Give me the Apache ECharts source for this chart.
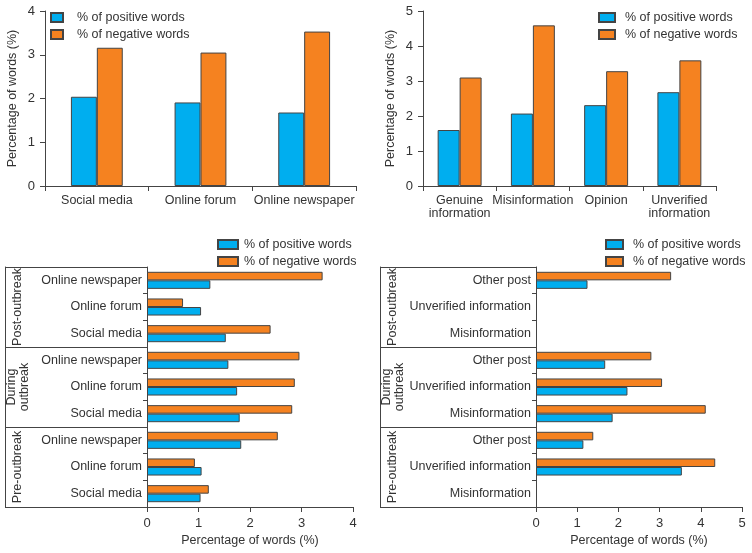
<!DOCTYPE html>
<html>
<head>
<meta charset="utf-8">
<script src="https://cdn.jsdelivr.net/npm/echarts@6/dist/echarts.min.js"></script>
<style>
  html, body { margin: 0; padding: 0; background: #fff; }
  #main { width: 752px; height: 553px; }
</style>
</head>
<body>
<div id="main"></div>
<script>
var posName = '% of positive words';
var negName = '% of negative words';

// top left: by platform
var platformCats = ['Social media', 'Online forum', 'Online newspaper'];
var platformPos = [2.04, 1.91, 1.68];
var platformNeg = [3.16, 3.05, 3.53];

// top right: by post type
var typeCats = ['Genuine\ninformation', 'Misinformation', 'Opinion', 'Unverified\ninformation'];
var typePos = [1.60, 2.07, 2.31, 2.68];
var typeNeg = [3.10, 4.59, 3.28, 3.59];

// bottom: periods (bottom to top)
var periods = ['Pre-outbreak', 'During\noutbreak', 'Post-outbreak'];

// bottom left: platform per period (bottom to top)
var periodPlatformCats = ['Social media', 'Online forum', 'Online newspaper',
                          'Social media', 'Online forum', 'Online newspaper',
                          'Social media', 'Online forum', 'Online newspaper'];
var periodPlatformPos = [1.04, 1.06, 1.83, 1.80, 1.75, 1.58, 1.53, 1.05, 1.23];
var periodPlatformNeg = [1.20, 0.93, 2.54, 2.82, 2.87, 2.96, 2.40, 0.70, 3.41];

// bottom right: post type per period (bottom to top)
var periodTypeCats = ['Misinformation', 'Unverified information', 'Other post',
                      'Misinformation', 'Unverified information', 'Other post',
                      'Misinformation', 'Unverified information', 'Other post'];
var periodTypePos = [null, 3.54, 1.15, 1.86, 2.22, 1.68, null, null, 1.25];
var periodTypeNeg = [null, 4.35, 1.39, 4.12, 3.06, 2.80, null, null, 3.28];

var blue = '#00AEEF';
var orange = '#F58220';
var lineColor = '#444';
var font = "'Liberation Sans', Arial, sans-serif";
var fs = 12.5;

var myChart = echarts.init(document.getElementById('main'));

function axisLine() {
    return { show: true, lineStyle: { color: lineColor, width: 1 } };
}

function legend(left, top, w, gap) {
    return {
        orient: 'vertical',
        left: left,
        top: top,
        itemWidth: w,
        itemHeight: 9,
        itemGap: 4,
        padding: 0,
        icon: 'rect',
        data: [posName, negName],
        textStyle: { fontFamily: font, fontSize: fs, color: '#333', padding: [0, 0, 0, gap - 5] }
    };
}

function valueAxis(grid, max, labelMargin) {
    return {
        type: 'value',
        gridIndex: grid,
        min: 0,
        max: max,
        interval: 1,
        splitLine: { show: false },
        axisLine: axisLine(),
        axisTick: { show: true, length: 5, lineStyle: { color: lineColor } },
        axisLabel: { margin: labelMargin, fontFamily: font, fontSize: fs + 0.5, color: '#333' },
        name: 'Percentage of words (%)',
        nameLocation: 'middle',
        nameTextStyle: { fontFamily: font, fontSize: fs, color: '#333' }
    };
}

function barSeries(name, x, y, data, horizontal) {
    return {
        name: name,
        type: 'bar',
        xAxisIndex: x,
        yAxisIndex: y,
        data: data,
        barGap: '0%',
        barCategoryGap: horizontal ? '36%' : (x === 0 ? '50%' : '40%'),
        itemStyle: { color: name === posName ? blue : orange, borderColor: lineColor, borderWidth: 1 },
        emphasis: { disabled: true }
    };
}

function periodAxis(grid, offset) {
    return {
        type: 'category', gridIndex: grid, data: periods, position: 'left', offset: offset,
        axisLine: axisLine(),
        axisTick: { show: true, inside: true, length: offset, lineStyle: { color: lineColor } },
        axisLabel: {
            inside: true, rotate: 90, margin: 13, interval: 0, verticalAlign: 'middle',
            fontFamily: font, fontSize: fs, color: '#333', lineHeight: 13
        }
    };
}

var option = {
    animation: false,
    backgroundColor: '#fff',
    textStyle: { fontFamily: font },
    legend: [
        legend(50, 11, 12, 14),
        legend(598, 11, 16, 10),
        legend(217, 238, 20, 6),
        legend(605, 238, 17, 10)
    ],
    grid: [
        { left: 45, right: 396, top: 11, bottom: 367 },
        { left: 423, right: 36, top: 11, bottom: 367 },
        { left: 147, right: 399, top: 267, bottom: 46 },
        { left: 536, right: 10, top: 267, bottom: 46 }
    ],
    xAxis: [
        {
            type: 'category', gridIndex: 0, data: platformCats,
            axisLine: axisLine(),
            axisTick: { show: true, length: 5, lineStyle: { color: lineColor } },
            axisLabel: { margin: 8, interval: 0, fontFamily: font, fontSize: fs, color: '#333' }
        },
        {
            type: 'category', gridIndex: 1, data: typeCats,
            axisLine: axisLine(),
            axisTick: { show: true, length: 5, lineStyle: { color: lineColor } },
            axisLabel: { margin: 8, interval: 0, fontFamily: font, fontSize: fs, color: '#333', lineHeight: 13 }
        },
        Object.assign(valueAxis(2, 4, 10), { nameGap: 27 }),
        Object.assign(valueAxis(3, 5, 10), { nameGap: 27 })
    ],
    yAxis: [
        Object.assign(valueAxis(0, 4, 10), { nameGap: 26 }),
        Object.assign(valueAxis(1, 5, 10), { nameGap: 26 }),
        {
            type: 'category', gridIndex: 2, data: periodPlatformCats,
            axisLine: axisLine(),
            axisTick: { show: true, length: 4, lineStyle: { color: lineColor } },
            axisLabel: { margin: 5, interval: 0, fontFamily: font, fontSize: fs, color: '#333' }
        },
        {
            type: 'category', gridIndex: 3, data: periodTypeCats,
            axisLine: axisLine(),
            axisTick: { show: true, length: 4, lineStyle: { color: lineColor } },
            axisLabel: { margin: 5, interval: 0, fontFamily: font, fontSize: fs, color: '#333' }
        },
        // period brackets on the left
        periodAxis(2, 142),
        periodAxis(3, 156)
    ],
    series: [
        barSeries(posName, 0, 0, platformPos, false),
        barSeries(negName, 0, 0, platformNeg, false),
        barSeries(posName, 1, 1, typePos, false),
        barSeries(negName, 1, 1, typeNeg, false),
        // horizontal panels: negative first so it sits above
        barSeries(negName, 2, 2, periodPlatformNeg, true),
        barSeries(posName, 2, 2, periodPlatformPos, true),
        barSeries(negName, 3, 3, periodTypeNeg, true),
        barSeries(posName, 3, 3, periodTypePos, true)
    ]
};

myChart.setOption(option);
</script>
</body>
</html>
